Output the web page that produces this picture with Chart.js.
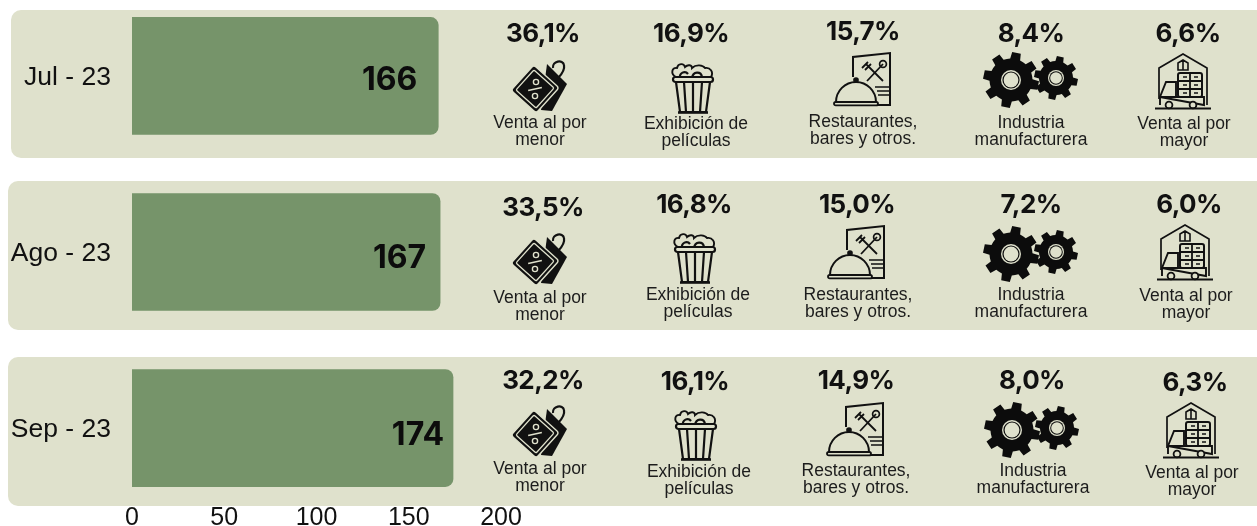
<!DOCTYPE html>
<html lang="es">
<head>
<meta charset="utf-8">
<title>Sectores</title>
<style>
  html, body { margin: 0; padding: 0; background: #fff; }
  #page { position: relative; width: 1257px; height: 526px; overflow: hidden; }
  .band { position: absolute; right: -20px; background: #dfe1cc; border-radius: 10px; }
  #chart-wrap { position: absolute; left: 0; top: -49px; width: 1257px; height: 602px; }
  .pct { position: absolute; transform: translate(-50%, -50%); font: 700 26px Inter, sans-serif; letter-spacing: -0.6px; color: #111; white-space: nowrap; }
  .sector { position: absolute; transform: translateX(-50%); font: 17.5px/17.3px "Liberation Sans", sans-serif; color: #1c1c1c; text-align: center; white-space: nowrap; }
  .icon { position: absolute; transform: translate(-50%, -50%); }
  .icon svg { display: block; }
</style>
</head>
<body>
<div id="page">
  <div class="band" style="left:11px;top:10px;height:148px"></div>
  <div class="band" style="left:8px;top:181px;height:149px"></div>
  <div class="band" style="left:8px;top:357px;height:149px"></div>
  <div id="chart-wrap"><canvas id="chart"></canvas></div>
  <div id="overlay"></div>
</div>
<script src="https://cdn.jsdelivr.net/npm/chart.js@4"></script>
<script>
/* ---------- data ---------- */
const MONTHS = ['Jul - 23', 'Ago - 23', 'Sep - 23'];
const TOTALS = [166, 167, 174];
const X_TICKS = [0, 50, 100, 150, 200];
const SECTORS = ['Venta al por\nmenor', 'Exhibición de\npelículas', 'Restaurantes,\nbares y otros.', 'Industria\nmanufacturera', 'Venta al por\nmayor'];
const SHARES_JUL = ['36,1%', '16,9%', '15,7%', '8,4%', '6,6%'];
const SHARES_AGO = ['33,5%', '16,8%', '15,0%', '7,2%', '6,0%'];
const SHARES_SEP = ['32,2%', '16,1%', '14,9%', '8,0%', '6,3%'];

/* ---------- layout of the text and icons, by row then column ---------- */
const PCT_X = [[543, 691, 863, 1031, 1188], [543, 694, 857, 1031, 1189], [543, 695, 856, 1032, 1195]];
const PCT_Y = [[32, 32, 30, 32, 32], [206, 203, 203, 203, 203], [379, 380, 379, 379, 381]];
const LABEL_X = [[540, 696, 863, 1031, 1184], [540, 698, 858, 1031, 1186], [540, 699, 856, 1033, 1192]];
const LABEL_Y = [[114, 115, 113, 114, 115], [289, 286, 286, 286, 287], [460, 463, 462, 462, 464]];
const ICON_X = [[540, 693, 863, 1031, 1184], [540, 695, 857, 1031, 1186], [540, 696, 856, 1032, 1192]];
const ICON_Y = [[87, 88, 80, 80, 82], [260, 258, 253, 254, 253], [432, 435, 430, 430, 431]];
const VALUE_INSET = [21, 14, 9];
const VALUE_DY = [4, 6, 7];

/* ---------- icons ---------- */
function gearPath(cx, cy, rOut, rIn, teeth) {
  let d = '';
  const step = Math.PI * 2 / teeth;
  for (let i = 0; i < teeth; i++) {
    const a = i * step + 0.2;
    const pts = [[rIn, a - step * 0.5], [rIn, a - step * 0.3], [rOut, a - step * 0.2], [rOut, a + step * 0.2], [rIn, a + step * 0.3]];
    pts.forEach(([r, t], k) => {
      d += (i === 0 && k === 0 ? 'M' : 'L') + (cx + r * Math.cos(t)).toFixed(1) + ' ' + (cy + r * Math.sin(t)).toFixed(1);
    });
  }
  return d + 'Z';
}

const BG = '#dfe1cc';
const ICONS = [
  `<svg width="58" height="58" viewBox="0 0 58 58">
    <path d="M36 6 L56 26 L41 53 L30 52 Z" fill="#111"/>
    <path d="M42 10 C41 3 52 1 53 7 C54 12 50 17 47 20" fill="none" stroke="#111" stroke-width="2.2"/>
    <g transform="translate(24 31) rotate(42)">
      <rect x="-17" y="-17" width="34" height="34" rx="3" fill="#111" stroke="${BG}" stroke-width="1.4"/>
      <rect x="-13.5" y="-13.5" width="27" height="27" rx="1.5" fill="none" stroke="${BG}" stroke-width="1.3"/>
    </g>
    <path d="M17 31 L31 31" stroke="${BG}" stroke-width="1.5" transform="rotate(-12 24 31)"/>
    <circle cx="25" cy="24" r="2.6" fill="none" stroke="${BG}" stroke-width="1.4"/>
    <circle cx="24" cy="38" r="2.6" fill="none" stroke="${BG}" stroke-width="1.4"/>
  </svg>`,
  `<svg width="46" height="52" viewBox="0 0 46 52" fill="none" stroke="#111" stroke-width="1.9">
    <path d="M6 15 C0 12 2 5 7 6 C8 1 14 1 15 5 C18 2 22 3 22 6 C26 2 33 3 35 6 C40 5 44 10 41 15" fill="${BG}"/>
    <path d="M10 16 C9 11 15 8 18 12 M22 16 C23 9 31 9 32 15" stroke-width="2.2"/>
    <rect x="3" y="15" width="40" height="5" rx="2.5" fill="${BG}" stroke-width="2.2"/>
    <path d="M6 20 L10 50 H36 L40 20" stroke-width="2.2"/>
    <path d="M14 20 L16 50 M23 20 V50 M32 20 L30 50" stroke-width="2.2"/>
    <path d="M8 50.5 H38" stroke-width="2.6"/>
  </svg>`,
  `<svg width="60" height="58" viewBox="0 0 60 58" fill="none" stroke="#111" stroke-width="1.7">
    <path d="M20 26 V6 L57 2 V54 H44" stroke-width="2"/>
    <path d="M33 13 L50 30 M35 11 L29 17 M38 13 L32 19 M50 13 L34 30" stroke-width="1.8"/>
    <circle cx="50" cy="13" r="3.4"/>
    <path d="M42 36 H56 M44 40 H56 M45 44 H56"/>
    <path d="M3 51 A20 20 0 0 1 43 51" fill="${BG}" stroke-width="2"/>
    <circle cx="23" cy="29" r="2" fill="#111"/>
    <rect x="1" y="51" width="44" height="3.4" rx="1.7" fill="${BG}" stroke-width="1.8"/>
  </svg>`,
  `<svg width="96" height="56" viewBox="0 0 96 56">
    <path d="${gearPath(28, 28, 28, 21.5, 8)}" fill="#0c0c0c"/>
    <circle cx="28" cy="28" r="10" fill="${BG}"/>
    <circle cx="28" cy="28" r="8.6" fill="#0c0c0c"/>
    <circle cx="28" cy="28" r="7.4" fill="${BG}"/>
    <path d="${gearPath(73, 26, 22, 17, 8)}" fill="#0c0c0c"/>
    <circle cx="73" cy="26" r="8" fill="${BG}"/>
    <circle cx="73" cy="26" r="6.8" fill="#0c0c0c"/>
    <circle cx="73" cy="26" r="5.8" fill="${BG}"/>
  </svg>`,
  `<svg width="58" height="58" viewBox="0 0 58 58" fill="none" stroke="#111" stroke-width="1.6">
    <path d="M4 46 V15 L28 1 L52 15 V52" stroke-width="1.7"/>
    <path d="M23 17 V10 L28 7 L33 10 V17 Z M28 7 V17"/>
    <rect x="23" y="20" width="24" height="24" rx="2" stroke-width="2"/>
    <path d="M23 28 H47 M23 36 H47 M35 20 V44" stroke-width="1.8"/>
    <path d="M28 24 H32 M39 24 H43 M28 32 H32 M39 32 H43 M28 40 H32 M39 40 H43"/>
    <path d="M5 52 V44 L11 29 H21 V44 M5 44 H49 V52 Z" stroke-width="1.9"/>
    <circle cx="14" cy="52" r="3.4" fill="${BG}" stroke-width="1.8"/>
    <circle cx="38" cy="52" r="3.4" fill="${BG}" stroke-width="1.8"/>
    <path d="M0 55.5 H56" stroke-width="2"/>
  </svg>`
];

/* ---------- overlay text and icons ---------- */
function renderOverlay() {
  const box = document.getElementById('overlay');
  const shares = [SHARES_JUL, SHARES_AGO, SHARES_SEP];
  shares.forEach((row, r) => {
    row.forEach((share, c) => {
      const pct = document.createElement('div');
      pct.className = 'pct';
      pct.style.left = PCT_X[r][c] + 'px';
      pct.style.top = PCT_Y[r][c] + 'px';
      pct.textContent = share;
      box.appendChild(pct);

      const icon = document.createElement('div');
      icon.className = 'icon';
      icon.style.left = ICON_X[r][c] + 'px';
      icon.style.top = ICON_Y[r][c] + 'px';
      icon.innerHTML = ICONS[c];
      box.appendChild(icon);

      const label = document.createElement('div');
      label.className = 'sector';
      label.style.left = LABEL_X[r][c] + 'px';
      label.style.top = LABEL_Y[r][c] + 'px';
      label.innerHTML = SECTORS[c].replace('\n', '<br>');
      box.appendChild(label);
    });
  });
}

/* ---------- chart ---------- */
const valueLabels = {
  id: 'valueLabels',
  afterDatasetsDraw(chart) {
    const { ctx } = chart;
    ctx.save();
    ctx.fillStyle = '#0c0c0c';
    ctx.font = '700 32px Inter, sans-serif';
    ctx.textAlign = 'right';
    ctx.textBaseline = 'middle';
    chart.getDatasetMeta(0).data.forEach((bar, i) => {
      ctx.fillText(String(TOTALS[i]), bar.x - VALUE_INSET[i], bar.y + VALUE_DY[i]);
    });
    ctx.restore();
  }
};

new Chart(document.getElementById('chart'), {
  type: 'bar',
  data: {
    labels: MONTHS,
    datasets: [{
      data: TOTALS,
      backgroundColor: '#76946a',
      barThickness: 117,
      borderRadius: { topLeft: 0, bottomLeft: 0, topRight: 8, bottomRight: 8 },
      borderSkipped: false,
    }]
  },
  options: {
    indexAxis: 'y',
    responsive: true,
    maintainAspectRatio: false,
    animation: false,
    layout: { padding: { right: 756 } },
    plugins: { legend: { display: false }, tooltip: { enabled: false } },
    scales: {
      x: {
        min: 0,
        max: 200,
        afterBuildTicks: axis => { axis.ticks = X_TICKS.map(value => ({ value })); },
        afterFit: axis => {
          axis.height = 30;
          // tick labels sit above the axis box, so no clipping to it
          axis._computeLabelArea = () => undefined;
        },
        grid: { display: false, drawTicks: false },
        border: { display: false },
        ticks: { color: '#111', padding: -13, maxRotation: 0, font: { size: 25, family: '"Liberation Sans", sans-serif' } },
      },
      y: {
        afterFit: axis => { axis.width = 132; },
        grid: { display: false, drawTicks: false },
        border: { display: false },
        ticks: { color: '#111', padding: 21, labelOffset: 2, font: { size: 26.5, family: '"Liberation Sans", sans-serif' } },
      }
    }
  },
  plugins: [valueLabels]
});

renderOverlay();
</script>
</body>
</html>
